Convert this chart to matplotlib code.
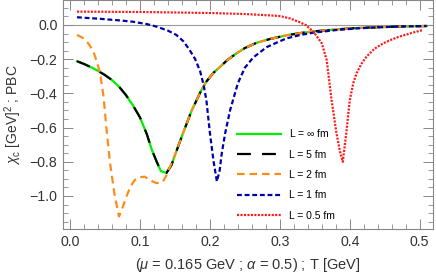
import matplotlib
matplotlib.use("Agg")
import matplotlib.pyplot as plt
from matplotlib.ticker import MultipleLocator, FuncFormatter

plt.rcParams['font.family'] = ['Liberation Sans', 'DejaVu Sans']
plt.rcParams['mathtext.fontset'] = 'custom'
plt.rcParams['mathtext.it'] = 'Liberation Sans:italic'
plt.rcParams['mathtext.rm'] = 'Liberation Sans'
plt.rcParams['lines.scale_dashes'] = False

# L = infinity (and L = 5 fm, same curve)
T_inf = [0.01, 0.02, 0.03, 0.04, 0.05, 0.06, 0.07, 0.08, 0.09, 0.10, 0.11, 0.117,
         0.124, 0.13, 0.138, 0.145, 0.152, 0.16, 0.167, 0.174, 0.181, 0.188, 0.195,
         0.205, 0.214, 0.225, 0.238, 0.25, 0.267, 0.286, 0.31, 0.33, 0.35, 0.38,
         0.41, 0.44, 0.47, 0.51]
chi_inf = [-0.212, -0.228, -0.247, -0.268, -0.293, -0.322, -0.36, -0.41, -0.47, -0.54,
           -0.64, -0.73, -0.80, -0.855, -0.865, -0.82, -0.74, -0.65, -0.575, -0.50,
           -0.44, -0.38, -0.331, -0.28, -0.247, -0.205, -0.166, -0.135, -0.104,
           -0.082, -0.06, -0.047, -0.037, -0.026, -0.018, -0.013, -0.009, -0.006]

# L = 2 fm
T_2 = [0.01, 0.018, 0.026, 0.033, 0.038, 0.043, 0.048, 0.052, 0.057, 0.064, 0.07,
       0.075, 0.081, 0.087, 0.093, 0.10, 0.107, 0.115, 0.124, 0.133, 0.138, 0.145,
       0.152, 0.16, 0.167, 0.174, 0.181, 0.188, 0.195, 0.205, 0.214, 0.225, 0.238,
       0.25, 0.267, 0.286, 0.31, 0.33, 0.35, 0.38, 0.41, 0.44, 0.47, 0.51]
chi_2 = [-0.058, -0.075, -0.107, -0.15, -0.21, -0.28, -0.42, -0.60, -0.80, -1.0, -1.12,
         -1.07, -1.0, -0.94, -0.905, -0.89, -0.887, -0.91, -0.925, -0.916, -0.878,
         -0.81, -0.74, -0.65, -0.575, -0.50, -0.44, -0.38, -0.331, -0.28, -0.247,
         -0.205, -0.166, -0.135, -0.104, -0.082, -0.06, -0.047, -0.037, -0.026,
         -0.018, -0.013, -0.009, -0.006]

# L = 1 fm
T_1 = [0.01, 0.043, 0.07, 0.09, 0.11, 0.124, 0.14, 0.152, 0.162, 0.171, 0.179, 0.186,
       0.191, 0.195, 0.20, 0.205, 0.21, 0.214, 0.217, 0.222, 0.229, 0.24, 0.25, 0.262,
       0.281, 0.30, 0.31, 0.33, 0.348, 0.38, 0.41, 0.44, 0.47, 0.51]
chi_1 = [0.045, 0.036, 0.027, 0.019, 0.005, -0.01, -0.033, -0.058, -0.095, -0.146, -0.20,
         -0.27, -0.35, -0.44, -0.63, -0.79, -0.915, -0.85, -0.75, -0.63, -0.497, -0.341,
         -0.25, -0.19, -0.13, -0.095, -0.078, -0.058, -0.045, -0.030, -0.020, -0.014,
         -0.009, -0.006]

# L = 0.5 fm
T_05 = [0.01, 0.10, 0.20, 0.25, 0.286, 0.30, 0.315, 0.329, 0.337, 0.348, 0.36, 0.367,
        0.374, 0.381, 0.386, 0.39, 0.395, 0.40, 0.405, 0.41, 0.417, 0.424, 0.435,
        0.448, 0.46, 0.471, 0.49, 0.505]
chi_05 = [0.078, 0.076, 0.070, 0.064, 0.056, 0.052, 0.038, 0.015, 0.0, -0.039, -0.107,
          -0.205, -0.44, -0.633, -0.74, -0.80, -0.633, -0.44, -0.34, -0.28, -0.225,
          -0.185, -0.14, -0.107, -0.085, -0.068, -0.045, -0.029]

fig = plt.figure(figsize=(4.36, 2.75), dpi=100)
ax = fig.add_axes([63 / 436, 1 - 229 / 275, 370 / 436, 229 / 275])

ax.axhline(0, color='#999999', lw=0.8, zorder=1)

ax.plot(T_inf, chi_inf, color='#00ee00', lw=1.6, label=r'L = $\infty$ fm')
ax.plot(T_inf, chi_inf, color='black', lw=1.6, dashes=(10, 8), label='L = 5 fm')
ax.plot(T_2, chi_2, color='#ff8c1a', lw=1.6, dashes=(5.5, 3.5), label='L = 2 fm')
ax.plot(T_1, chi_1, color='#0000aa', lw=1.6, dashes=(3.5, 2), label='L = 1 fm')
ax.plot(T_05, chi_05, color='#ff1a1a', lw=1.6, dashes=(1.5, 1), label='L = 0.5 fm')

ax.set_xlim(-0.01, 0.519)
ax.set_ylim(-1.193, 0.146)

ax.xaxis.set_major_locator(MultipleLocator(0.1))
ax.xaxis.set_minor_locator(MultipleLocator(0.02))
ax.yaxis.set_major_locator(MultipleLocator(0.2))
ax.yaxis.set_minor_locator(MultipleLocator(0.05))
fmt = FuncFormatter(lambda v, p: ('%.1f' % v).replace('-', '\u2212') if abs(v) > 1e-9 else '0.0')
ax.xaxis.set_major_formatter(fmt)
ax.yaxis.set_major_formatter(fmt)

for s in ax.spines.values():
    s.set_color('#888888')
    s.set_linewidth(0.8)
ax.tick_params(which='both', direction='in', top=True, right=True, color='#888888',
               labelcolor='#333333', labelsize=10.2)
ax.tick_params(which='major', length=7, width=0.7, pad=4)
ax.tick_params(which='minor', length=3.5, width=0.6)

ax.set_xlabel(r'($\mu$ = 0.165 GeV ; $\alpha$ = 0.5) ; T [GeV]', fontsize=10.5, color='#333333',
              labelpad=5)
ax.set_ylabel(r'$\chi_{\rm c}$ [GeV]$^2$ ; PBC', fontsize=10, color='#333333', labelpad=4)

ax.legend(loc='center left', bbox_to_anchor=(0.47, 0.24), frameon=False, fontsize=7.5,
          handlelength=4.2, handletextpad=0.8, labelspacing=1.0, borderpad=0,
          borderaxespad=0)

fig.savefig('out.png', dpi=100)
